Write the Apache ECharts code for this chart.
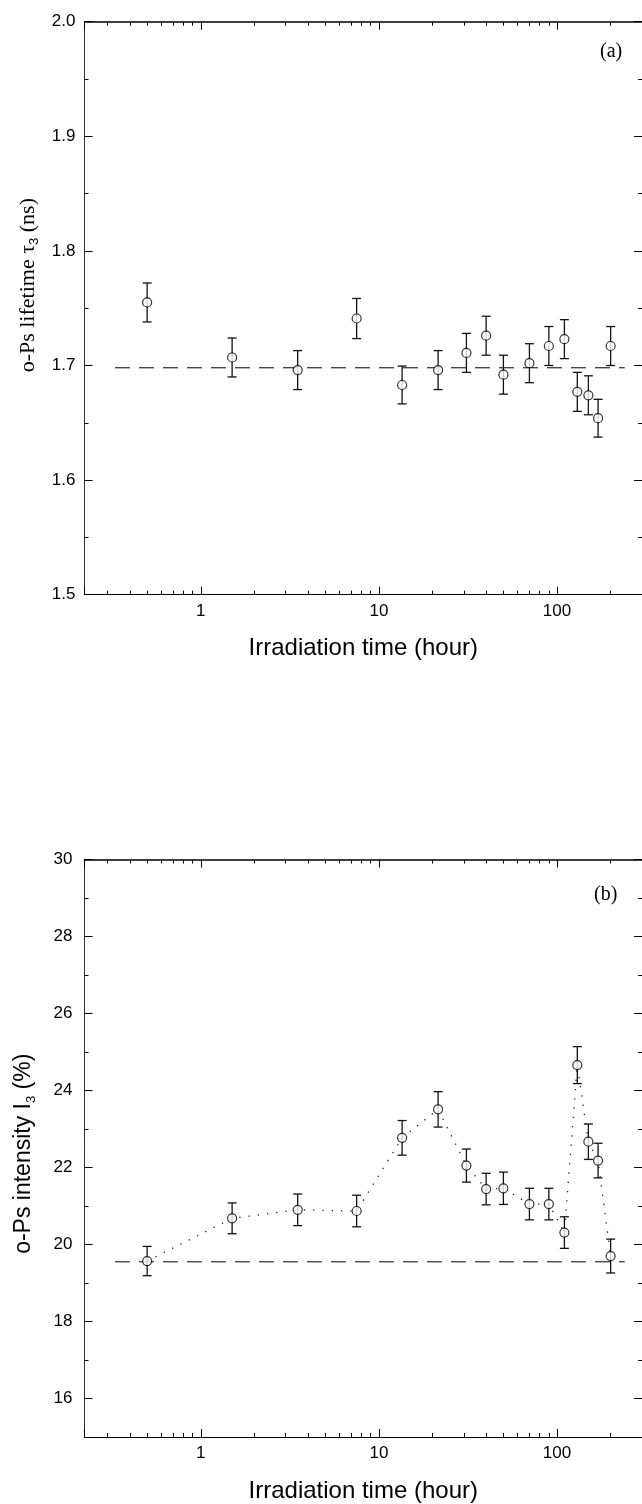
<!DOCTYPE html>
<html>
<head>
<meta charset="utf-8">
<script src="https://cdn.jsdelivr.net/npm/echarts@6.0.0/dist/echarts.min.js"></script>
<style>
  html, body { margin: 0; padding: 0; background: #fff; }
  #chart { width: 642px; height: 1504px; }
</style>
</head>
<body>
<div id="chart"></div>
<script>
// irradiation time (hour), shared by both panels
var hours = [0.5, 1.5, 3.5, 7.5, 13.5, 21.5, 31, 40, 50, 70, 90, 110, 130, 150, 170, 200];

// (a) o-Ps lifetime tau3 (ns)
var lifetime = [1.755, 1.707, 1.696, 1.741, 1.683, 1.696, 1.711, 1.726, 1.692, 1.702, 1.717, 1.723, 1.677, 1.674, 1.654, 1.717];
var lifetimeErr = [0.017, 0.017, 0.017, 0.0175, 0.0165, 0.017, 0.017, 0.017, 0.017, 0.017, 0.017, 0.017, 0.017, 0.017, 0.0165, 0.017];
var lifetimeRef = 1.698;

// (b) o-Ps intensity I3 (%)
var intensity = [19.57, 20.68, 20.90, 20.87, 22.77, 23.51, 22.05, 21.44, 21.46, 21.05, 21.05, 20.31, 24.66, 22.67, 22.18, 19.70];
var intensityErr = [0.38, 0.40, 0.41, 0.41, 0.45, 0.46, 0.43, 0.41, 0.42, 0.41, 0.41, 0.41, 0.48, 0.46, 0.45, 0.44];
var intensityRef = 19.55;

// extent of the dashed reference lines (hour)
var refSpan = [0.33, 240];

// axis ranges and ticks
var xRange = [0.2225, 300];
var yRangeA = [1.5, 2.0];
var yRangeB = [15, 30];
var yMajorB = [16, 18, 20, 22, 24, 26, 28, 30];
var yMinorB = [17, 19, 21, 23, 25, 27, 29];

(function () {
  'use strict';

  var SANS = '"Liberation Sans", Arial, Helvetica, sans-serif';
  var SERIF = '"Liberation Serif", "Times New Roman", serif';
  var INK = '#000';

  function pairs(xs, ys) {
    return xs.map(function (x, i) { return [x, ys[i]]; });
  }

  function errRows(xs, ys, es) {
    return xs.map(function (x, i) { return [x, ys[i] - es[i], ys[i] + es[i]]; });
  }

  function renderErrorBar(params, api) {
    var x = api.value(0);
    var pLo = api.coord([x, api.value(1)]);
    var pHi = api.coord([x, api.value(2)]);
    var w = 4.5;
    var style = { stroke: '#111', lineWidth: 1.3 };
    return {
      type: 'group',
      children: [
        { type: 'line', shape: { x1: pLo[0], y1: pLo[1], x2: pHi[0], y2: pHi[1] }, style: style },
        { type: 'line', shape: { x1: pLo[0] - w, y1: pLo[1], x2: pLo[0] + w, y2: pLo[1] }, style: style },
        { type: 'line', shape: { x1: pHi[0] - w, y1: pHi[1], x2: pHi[0] + w, y2: pHi[1] }, style: style }
      ]
    };
  }

  function xAxis(gridIndex, position) {
    var bottom = position === 'bottom';
    return {
      type: 'log',
      logBase: 10,
      gridIndex: gridIndex,
      position: position,
      min: xRange[0],
      max: xRange[1],
      name: bottom ? 'Irradiation time (hour)' : '',
      nameLocation: 'middle',
      nameGap: 42,
      nameTextStyle: { fontFamily: SANS, fontSize: 24, color: INK },
      axisLine: { show: true, lineStyle: { color: INK, width: bottom ? 1.2 : 1.5 } },
      axisTick: { show: true, inside: true, length: 8, lineStyle: { color: INK, width: 1 } },
      minorTick: { show: true, splitNumber: 9, length: 4, lineStyle: { color: INK, width: 1 } },
      axisLabel: {
        show: bottom,
        showMinLabel: false,
        showMaxLabel: false,
        margin: 8,
        fontFamily: SANS,
        fontSize: 17,
        color: INK
      },
      splitLine: { show: false },
      minorSplitLine: { show: false }
    };
  }

  var option = {
    animation: false,
    backgroundColor: '#fff',
    grid: [
      { left: 84.5, right: 0, top: 21.7, height: 573 },
      { left: 84.5, right: 0, top: 859.5, height: 577.5 }
    ],
    xAxis: [
      xAxis(0, 'bottom'),
      xAxis(0, 'top'),
      xAxis(1, 'bottom'),
      xAxis(1, 'top')
    ],
    yAxis: [
      // panel (a), left
      {
        type: 'value', gridIndex: 0, position: 'left',
        min: yRangeA[0], max: yRangeA[1], interval: 0.1,
        name: '{t|o-Ps lifetime τ}{s|3}{t| (ns)}',
        nameLocation: 'middle',
        nameRotate: 90,
        nameGap: 40,
        nameTextStyle: {
          padding: [0, 0, 0, 46],
          rich: {
            t: { fontFamily: SERIF, fontSize: 22, lineHeight: 26, color: INK },
            s: { fontFamily: SANS, fontSize: 13, lineHeight: 10, verticalAlign: 'bottom', color: INK }
          }
        },
        axisLine: { show: true, lineStyle: { color: '#333', width: 1 } },
        axisTick: { show: true, inside: true, length: 8, lineStyle: { color: INK } },
        minorTick: { show: true, splitNumber: 2, length: 4, lineStyle: { color: INK } },
        axisLabel: {
          margin: 9, fontFamily: SANS, fontSize: 17, color: INK,
          formatter: function (v) { return v.toFixed(1); }
        },
        splitLine: { show: false }
      },
      // panel (a), right
      {
        type: 'value', gridIndex: 0, position: 'right',
        min: yRangeA[0], max: yRangeA[1], interval: 0.1,
        axisLine: { show: false },
        axisTick: { show: true, inside: true, length: 8, lineStyle: { color: INK } },
        minorTick: { show: true, splitNumber: 2, length: 4, lineStyle: { color: INK } },
        axisLabel: { show: false },
        splitLine: { show: false }
      },
      // panel (b), left major
      {
        type: 'value', gridIndex: 1, position: 'left',
        min: yRangeB[0], max: yRangeB[1],
        name: '{t|o-Ps intensity I}{s|3}{t| (%)}',
        nameLocation: 'middle',
        nameRotate: 90,
        nameGap: 47,
        nameTextStyle: {
          padding: [0, 11, 0, 0],
          rich: {
            t: { fontFamily: SANS, fontSize: 23, lineHeight: 27, color: INK },
            s: { fontFamily: SANS, fontSize: 13, lineHeight: 10, verticalAlign: 'bottom', color: INK }
          }
        },
        axisLine: { show: true, lineStyle: { color: '#333', width: 1 } },
        axisTick: { show: true, inside: true, length: 8, customValues: yMajorB, lineStyle: { color: INK } },
        axisLabel: { margin: 12, fontFamily: SANS, fontSize: 17, color: INK, customValues: yMajorB },
        splitLine: { show: false }
      },
      // panel (b), left minor
      {
        type: 'value', gridIndex: 1, position: 'left',
        min: yRangeB[0], max: yRangeB[1],
        axisLine: { show: false },
        axisTick: { show: true, inside: true, length: 4, customValues: yMinorB, lineStyle: { color: INK } },
        axisLabel: { show: false },
        splitLine: { show: false }
      },
      // panel (b), right major
      {
        type: 'value', gridIndex: 1, position: 'right',
        min: yRangeB[0], max: yRangeB[1],
        axisLine: { show: false },
        axisTick: { show: true, inside: true, length: 8, customValues: yMajorB, lineStyle: { color: INK } },
        axisLabel: { show: false },
        splitLine: { show: false }
      },
      // panel (b), right minor
      {
        type: 'value', gridIndex: 1, position: 'right',
        min: yRangeB[0], max: yRangeB[1],
        axisLine: { show: false },
        axisTick: { show: true, inside: true, length: 4, customValues: yMinorB, lineStyle: { color: INK } },
        axisLabel: { show: false },
        splitLine: { show: false }
      }
    ],
    graphic: [
      { type: 'text', left: 600, top: 42, style: { text: '(a)', font: '20px ' + SERIF, fill: INK } },
      { type: 'text', left: 594, top: 885, style: { text: '(b)', font: '20px ' + SERIF, fill: INK } }
    ],
    series: [
      // ---- panel (a)
      {
        type: 'line', xAxisIndex: 0, yAxisIndex: 0, z: 2,
        data: pairs(refSpan, [lifetimeRef, lifetimeRef]),
        showSymbol: false, silent: true,
        lineStyle: { color: INK, width: 1, type: [15, 9] }
      },
      {
        type: 'custom', xAxisIndex: 0, yAxisIndex: 0, z: 3,
        renderItem: renderErrorBar,
        encode: { x: 0, y: [1, 2] },
        data: errRows(hours, lifetime, lifetimeErr)
      },
      {
        type: 'scatter', xAxisIndex: 0, yAxisIndex: 0, z: 5,
        symbol: 'circle', symbolSize: 9,
        itemStyle: { color: '#fff', borderColor: INK, borderWidth: 1.2 },
        data: pairs(hours, lifetime)
      },
      // ---- panel (b)
      {
        type: 'line', xAxisIndex: 2, yAxisIndex: 2, z: 2,
        data: pairs(refSpan, [intensityRef, intensityRef]),
        showSymbol: false, silent: true,
        lineStyle: { color: INK, width: 1, type: [15, 9] }
      },
      {
        type: 'line', xAxisIndex: 2, yAxisIndex: 2, z: 2,
        data: pairs(hours, intensity),
        showSymbol: false, silent: true,
        lineStyle: { color: '#222', width: 1.3, type: [1.3, 8] }
      },
      {
        type: 'custom', xAxisIndex: 2, yAxisIndex: 2, z: 3,
        renderItem: renderErrorBar,
        encode: { x: 0, y: [1, 2] },
        data: errRows(hours, intensity, intensityErr)
      },
      {
        type: 'scatter', xAxisIndex: 2, yAxisIndex: 2, z: 5,
        symbol: 'circle', symbolSize: 9,
        itemStyle: { color: '#fff', borderColor: INK, borderWidth: 1.2 },
        data: pairs(hours, intensity)
      }
    ]
  };

  var chart = echarts.init(document.getElementById('chart'), null, { renderer: 'canvas' });
  chart.setOption(option);
})();
</script>
</body>
</html>
